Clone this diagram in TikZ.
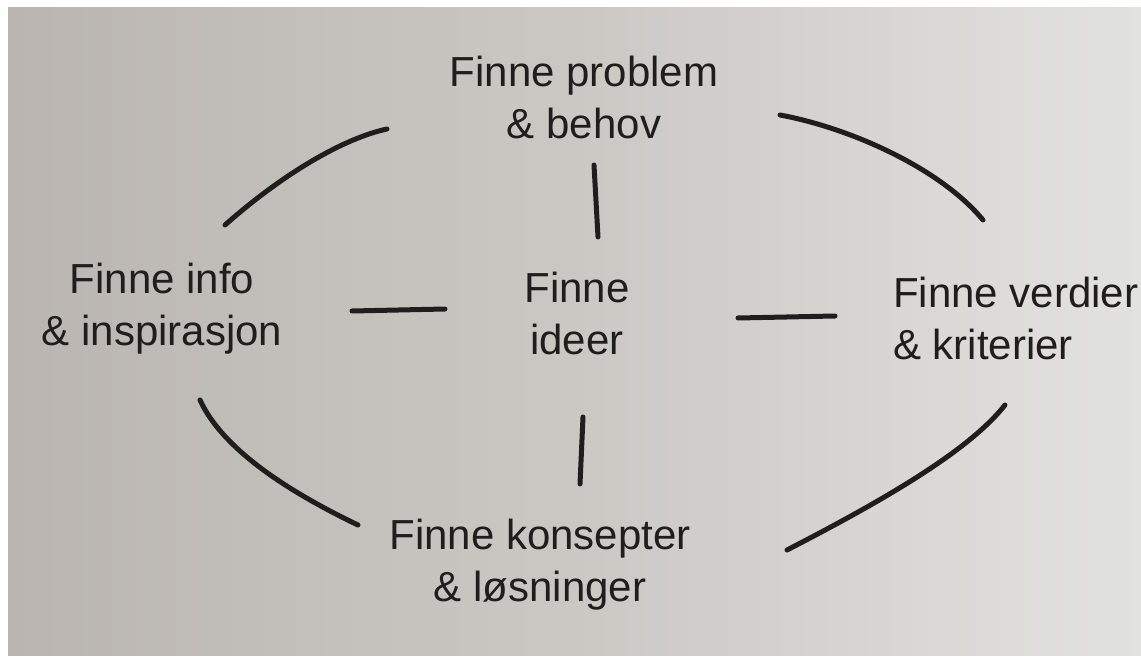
\documentclass[tikz,border=0pt]{standalone}
\usepackage{fontspec}
\setmainfont{Liberation Sans}
\definecolor{paperL}{RGB}{186,181,176}
\definecolor{paperM}{RGB}{203,200,196}
\definecolor{paperR}{RGB}{226,226,224}
\definecolor{ink}{RGB}{32,30,29}
\begin{document}
\begin{tikzpicture}[x=1pt,y=-1pt,
  label/.style={inner sep=0pt,align=center,text=ink,
    font=\fontsize{42}{52}\selectfont},
  stroke/.style={draw=ink,line width=5pt,line cap=round,line join=round}]
  % sheet and paper
  \fill[white] (0,0) rectangle (1141,663);
  \useasboundingbox (0,0) rectangle (1141,663);
  \shade[left color=paperL,right color=paperR,middle color=paperM]
    (8,8) rectangle (1141,655);

  % labels
  \node[label] (prob) at (584,97) {Finne problem\\\& behov};
  \node[label] (info) at (162,309) {Finne info\\\& inspirasjon};
  \node[label] (ideer) at (577,313) {Finne\\ideer};
  \node[label,anchor=west,align=left] (verdi) at (893,318) {Finne verdier\\\& kriterier};
  \node[label] (kons) at (540,565) {Finne konsepter\\\& løsninger};

  % stroke end points
  \coordinate (tlA) at (225,225);  \coordinate (tlB) at (387,129);
  \coordinate (trA) at (780,115);  \coordinate (trB) at (983,220);
  \coordinate (brA) at (1005,405); \coordinate (brB) at (787,550);
  \coordinate (blA) at (200,400);  \coordinate (blB) at (358,525);
  \coordinate (upA) at (594,165);  \coordinate (upB) at (598,237);
  \coordinate (lfA) at (352,311);  \coordinate (lfB) at (445,309);
  \coordinate (rtA) at (738,318);  \coordinate (rtB) at (835,316);
  \coordinate (dnA) at (583,417);  \coordinate (dnB) at (580,484);

  % outer ring
  \draw[stroke] (tlA) .. controls (285,172) and (345,138) .. (tlB);
  \draw[stroke] (trA) .. controls (850,128) and (940,168) .. (trB);
  \draw[stroke] (brA) .. controls (968,452) and (880,502) .. (brB);
  \draw[stroke] (blA) .. controls (222,448) and (285,490) .. (blB);

  % spokes around the centre
  \draw[stroke] (upA) -- (upB);
  \draw[stroke] (lfA) -- (lfB);
  \draw[stroke] (rtA) -- (rtB);
  \draw[stroke] (dnA) -- (dnB);
\end{tikzpicture}
\end{document}
